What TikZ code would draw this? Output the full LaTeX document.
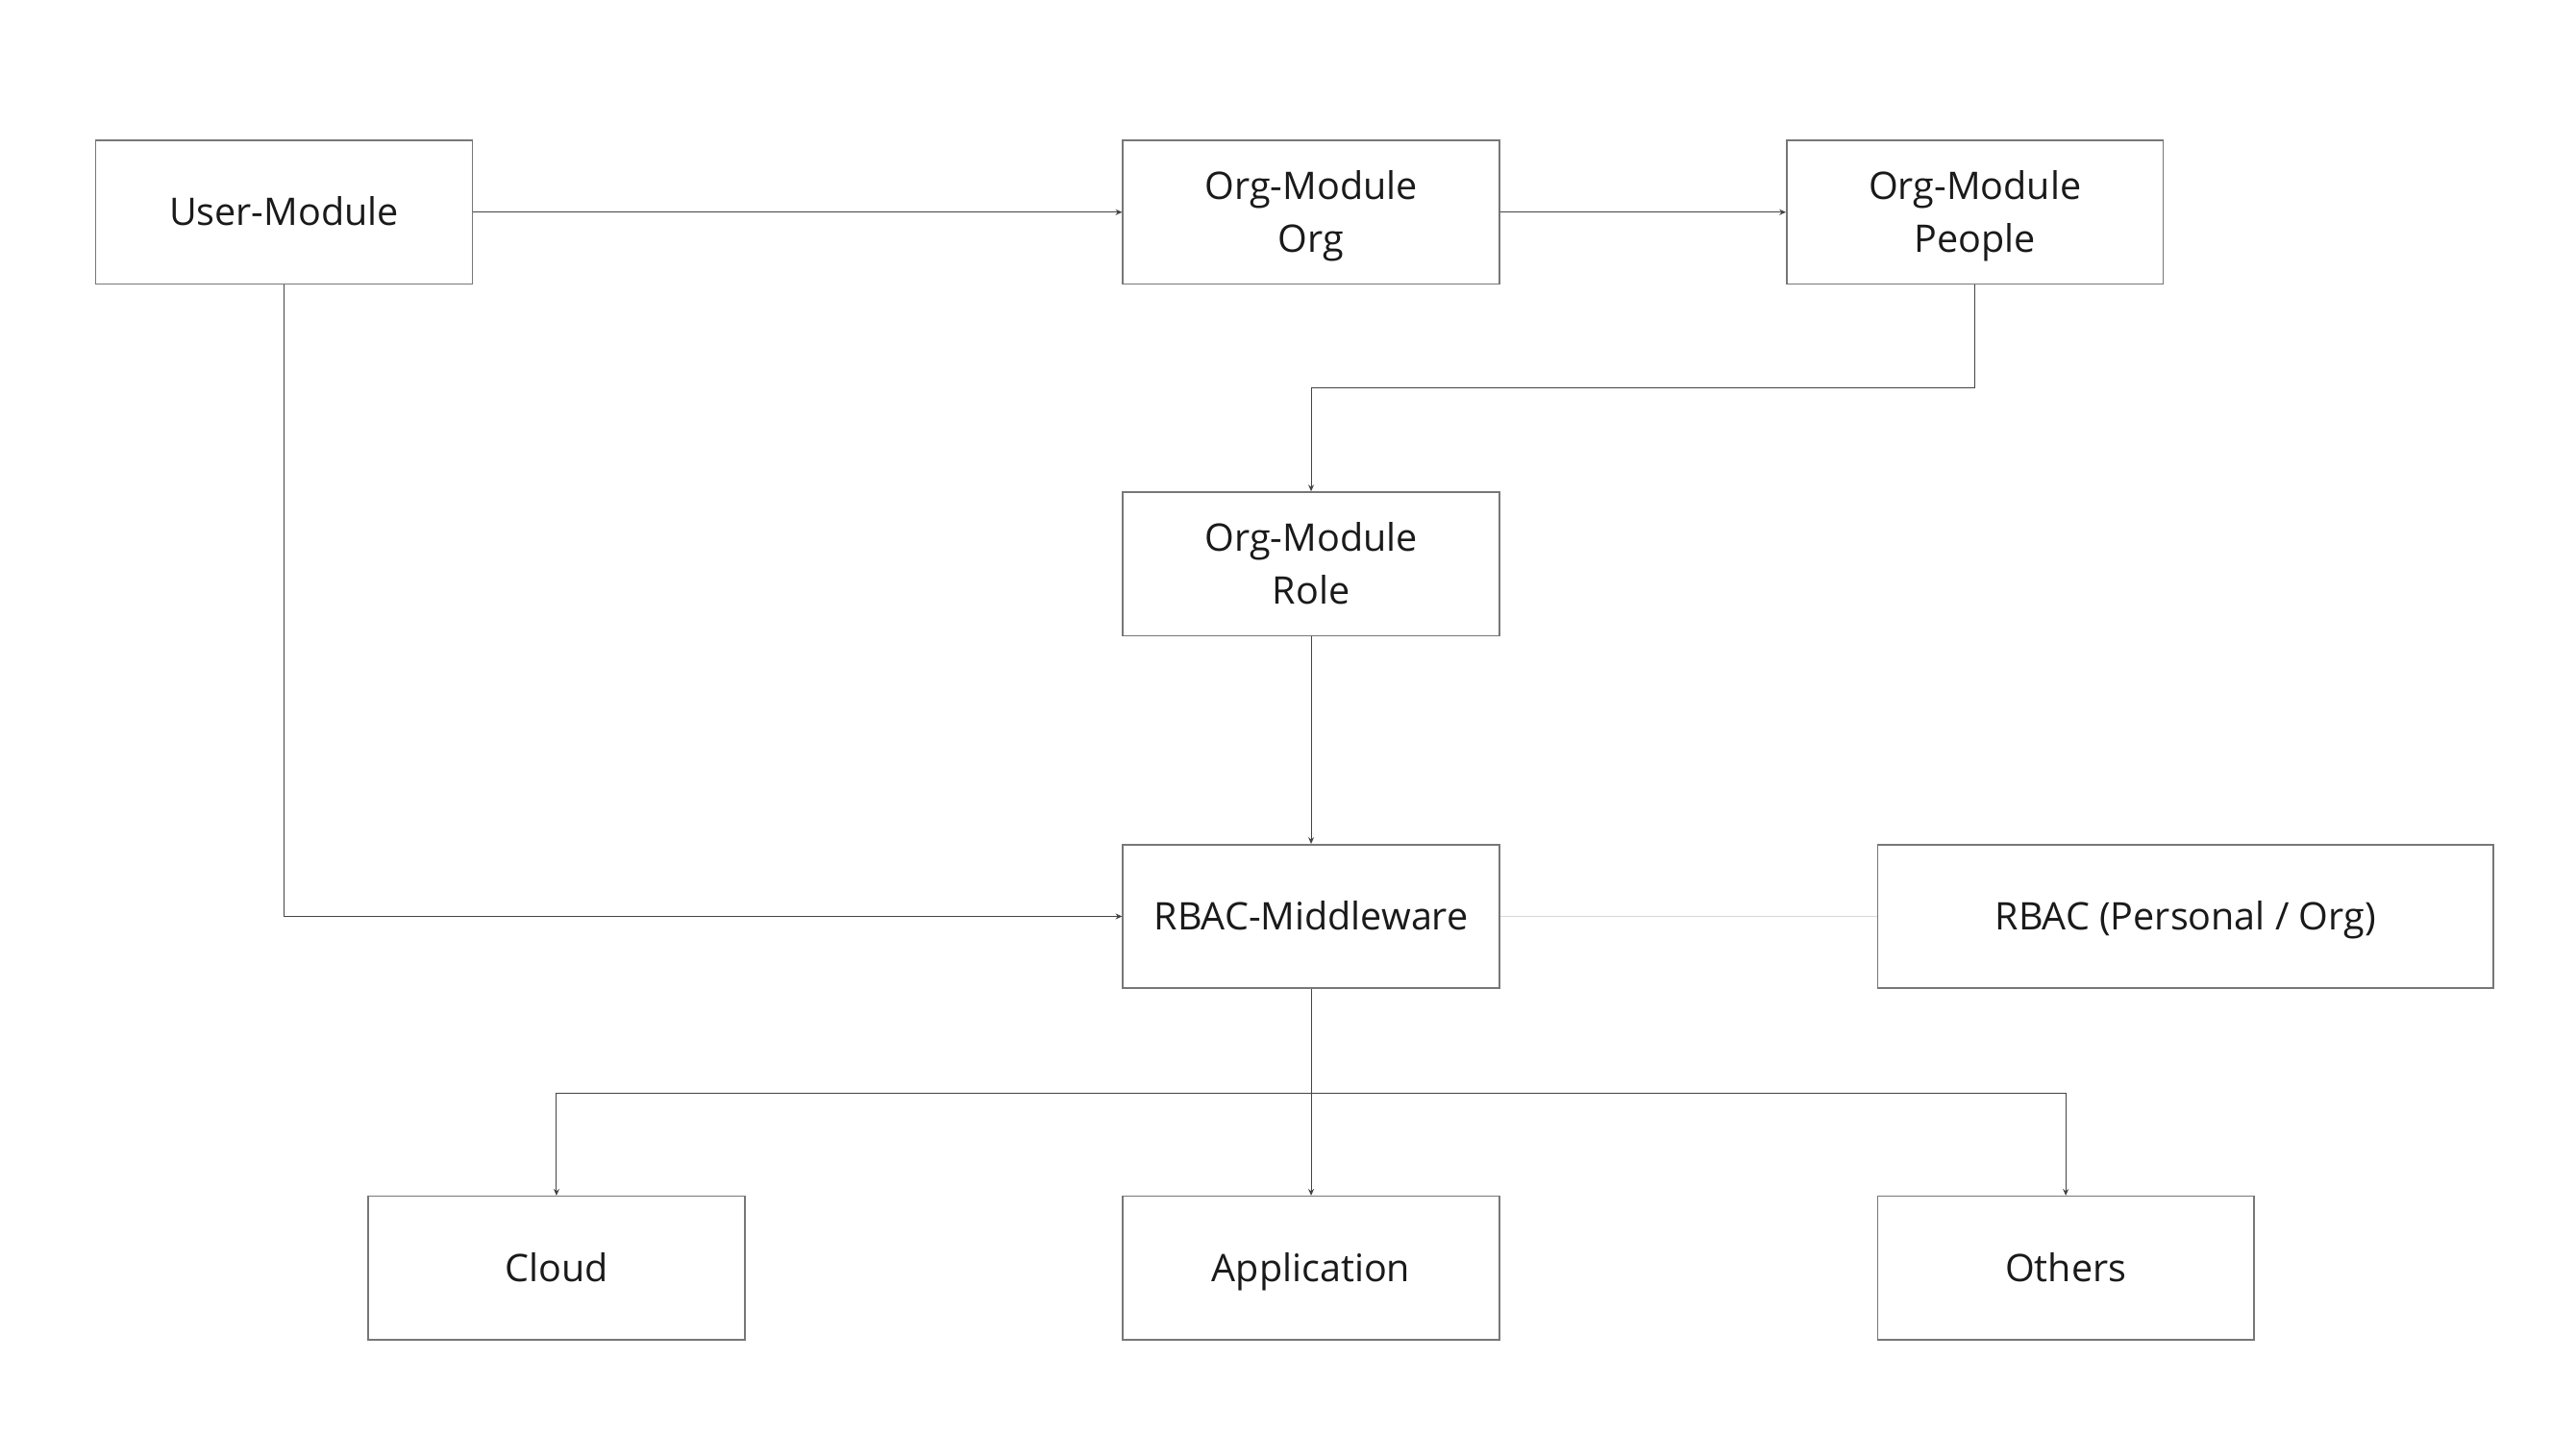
\documentclass[tikz,border=0pt]{standalone}
\usepackage{fontspec}
\setmainfont{Open Sans}
\usetikzlibrary{arrows.meta}
\definecolor{boxline}{HTML}{777777}
\definecolor{conn}{HTML}{444444}
\definecolor{txt}{HTML}{1A1A1A}
\definecolor{light}{HTML}{D8D8D8}
\newcommand\mystrut{\rule[-7.8pt]{0pt}{32pt}}
\tikzset{
  box/.style={draw=boxline, line width=0.9pt, fill=white, rectangle, minimum width=228pt, minimum height=87pt, inner sep=0pt, align=center, text=txt, font=\fontsize{23}{32}\selectfont},
  arr/.style={draw=conn, line width=0.6pt, -{Stealth[length=4pt,width=3.5pt]}},
  plain/.style={draw=conn, line width=0.6pt},
  lightline/.style={draw=light, line width=0.8pt}
}
\begin{document}
\begin{tikzpicture}[x=1pt,y=-1pt]
\useasboundingbox (0,0) rectangle (1560,868);
\node[box] (user) at (172,128.5) {\mystrut User-Module};
\node[box] (org) at (794,128.5) {\mystrut Org-Module\\Org\mystrut};
\node[box] (people) at (1196,128.5) {\mystrut Org-Module\\People\mystrut};
\node[box] (role) at (794,341.5) {\mystrut Org-Module\\Role\mystrut};
\node[box] (mw) at (794,555) {\mystrut RBAC-Middleware};
\node[box, minimum width=373pt] (rbac) at (1323.5,555) {\mystrut RBAC (Personal / Org)};
\node[box] (cloud) at (337,768) {\mystrut Cloud};
\node[box] (app) at (794,768) {\mystrut Application};
\node[box] (others) at (1251,768) {\mystrut Others};
\coordinate (j1) at (1196,235);
\coordinate (j2) at (794,662);
\draw[arr] (user) -- (org);
\draw[arr] (org) -- (people);
\draw[arr] (people.south) -- (j1) -| (role.north);
\draw[arr] (role) -- (mw);
\draw[arr] (user.south) |- (mw.west);
\draw[lightline] (mw) -- (rbac);
\draw[plain] (mw.south) -- (j2);
\draw[arr] (j2) -| (cloud.north);
\draw[arr] (j2) -| (others.north);
\draw[arr] (j2) -- (app.north);
\end{tikzpicture}
\end{document}
